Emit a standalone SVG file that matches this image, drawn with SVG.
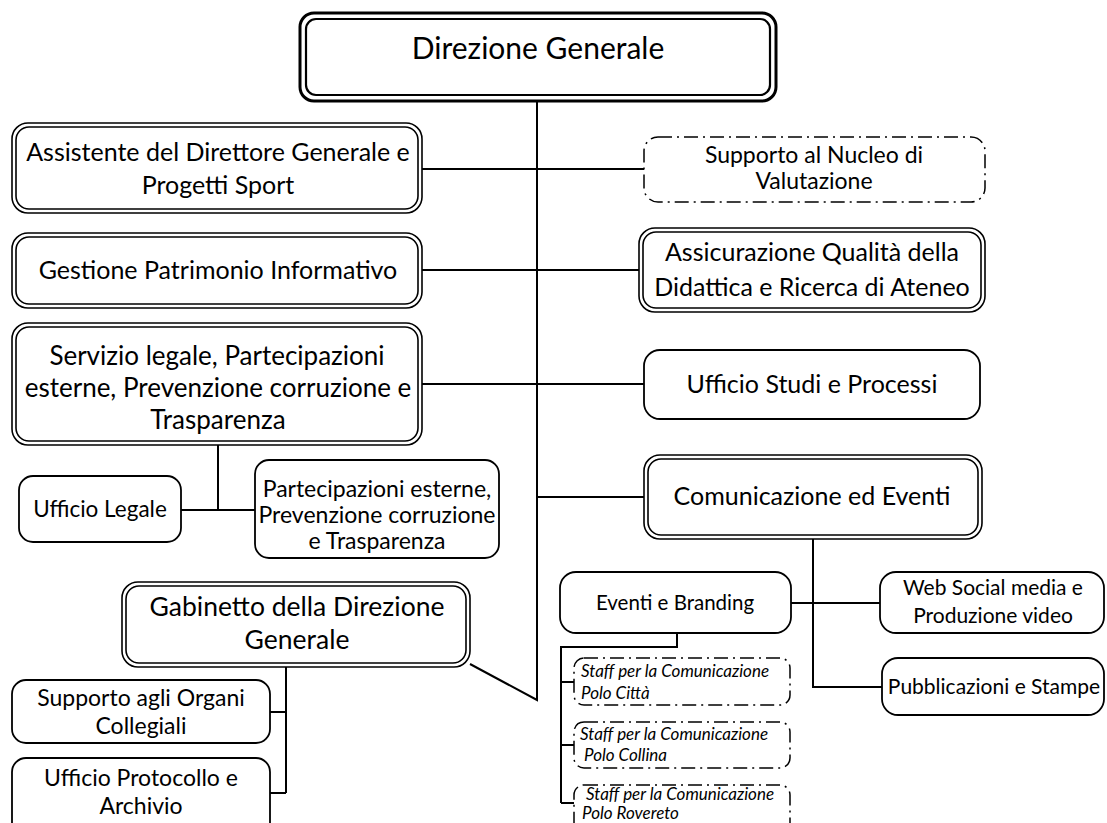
<svg xmlns="http://www.w3.org/2000/svg" width="1107" height="823" viewBox="0 0 1107 823">
<style>
.bg{fill:#fff}
.o{fill:#fff;stroke:#000;stroke-width:1.6}
.i{fill:none;stroke:#000;stroke-width:1.6}
.s{fill:#fff;stroke:#000;stroke-width:1.8}
.dd{fill:#fff;stroke:#000;stroke-width:1.5;stroke-dasharray:14 5 2 5}
.c{fill:none;stroke:#000;stroke-width:2}
text{font-family:Lato,"Open Sans",sans-serif;fill:#000;text-anchor:middle}
.t25{font-size:25px}
.t23{font-size:23px}
.t21{font-size:21px}
.it{font-size:17px;font-style:italic;text-anchor:start}
</style>
<rect class="bg" x="0" y="0" width="1107" height="823"/>
<g id="connectors">
<path class="c" d="M537,101 V700 L470,664"/>
<path class="c" d="M422,169 H644"/>
<path class="c" d="M422,270 H639"/>
<path class="c" d="M422,384 H644"/>
<path class="c" d="M537,497 H644"/>
<path class="c" d="M218,445 V510 M181,510 H255"/>
<path class="c" d="M286,667 V793 M270,712 H286 M270,793 H286"/>
<path class="c" d="M813,539 V687 H882"/>
<path class="c" d="M791,603 H880"/>
<path class="c" d="M677,633 V647 H561 V803 M561,682 H574 M561,745 H574 M561,803 H574"/>
</g>
<g id="direzione">
<rect x="300" y="13" width="476" height="88" rx="14" fill="#fff" stroke="#000" stroke-width="3"/>
<rect x="306" y="19" width="464" height="76" rx="10" fill="none" stroke="#000" stroke-width="2.2"/>
<text x="538" y="59" style="font-size:30px">Direzione Generale</text>
</g>
<g id="assistente">
<rect class="o" x="12" y="123" width="410" height="90" rx="16"/>
<rect class="i" x="16" y="127" width="402" height="82" rx="13"/>
<text class="t25" x="218" y="161">Assistente del Direttore Generale e</text>
<text class="t25" x="218" y="194">Progetti Sport</text>
</g>
<g id="supporto-nucleo">
<rect class="dd" x="644" y="137" width="341" height="65" rx="14"/>
<text class="t23" x="814" y="163">Supporto al Nucleo di</text>
<text class="t23" x="814" y="189">Valutazione</text>
</g>
<g id="gestione">
<rect class="o" x="12" y="233" width="410" height="75" rx="16"/>
<rect class="i" x="16" y="237" width="402" height="67" rx="13"/>
<text class="t25" x="218" y="279">Gestione Patrimonio Informativo</text>
</g>
<g id="assicurazione">
<rect class="o" x="639" y="228" width="346" height="84" rx="16"/>
<rect class="i" x="643" y="232" width="338" height="76" rx="13"/>
<text class="t25" x="812" y="261">Assicurazione Qualità della</text>
<text class="t25" x="812" y="296">Didattica e Ricerca di Ateneo</text>
</g>
<g id="servizio">
<rect class="o" x="12" y="323" width="410" height="122" rx="16"/>
<rect class="i" x="16" y="327" width="402" height="114" rx="13"/>
<text x="217" y="365" style="font-size:26px">Servizio legale, Partecipazioni</text>
<text x="218" y="397" style="font-size:26px">esterne, Prevenzione corruzione e</text>
<text x="218" y="429" style="font-size:26px">Trasparenza</text>
</g>
<g id="ufficio-studi">
<rect class="s" x="644" y="350" width="336" height="69" rx="16"/>
<text class="t25" x="812" y="393">Ufficio Studi e Processi</text>
</g>
<g id="comunicazione">
<rect class="o" x="644" y="455" width="338" height="84" rx="16"/>
<rect class="i" x="648" y="459" width="330" height="76" rx="13"/>
<text class="t25" x="812" y="505">Comunicazione ed Eventi</text>
</g>
<g id="ufficio-legale">
<rect class="s" x="19" y="476" width="162" height="66" rx="14"/>
<text x="100" y="517" style="font-size:22.5px">Ufficio Legale</text>
</g>
<g id="partecipazioni">
<rect class="s" x="255" y="460" width="244" height="98" rx="14"/>
<text class="t23" x="377" y="497">Partecipazioni esterne,</text>
<text class="t23" x="377" y="523">Prevenzione corruzione</text>
<text class="t23" x="377" y="549">e Trasparenza</text>
</g>
<g id="gabinetto">
<rect class="o" x="122" y="582" width="348" height="85" rx="16"/>
<rect class="i" x="126" y="586" width="340" height="77" rx="13"/>
<text x="297" y="616" style="font-size:26.5px">Gabinetto della Direzione</text>
<text x="297" y="649" style="font-size:26.5px">Generale</text>
</g>
<g id="supporto-organi">
<rect class="s" x="12" y="680" width="258" height="63" rx="14"/>
<text class="t23" x="141" y="706">Supporto agli Organi</text>
<text class="t23" x="141" y="734">Collegiali</text>
</g>
<g id="ufficio-protocollo">
<rect class="s" x="12" y="758" width="258" height="85" rx="14"/>
<text class="t23" x="141" y="786">Ufficio Protocollo e</text>
<text class="t23" x="141" y="814">Archivio</text>
</g>
<g id="eventi-branding">
<rect class="s" x="560" y="572" width="231" height="61" rx="16"/>
<text x="675" y="610" style="font-size:20.5px">Eventi e Branding</text>
</g>
<g id="web-social">
<rect class="s" x="880" y="572" width="224" height="61" rx="16"/>
<text class="t21" x="993" y="595">Web Social media e</text>
<text class="t21" x="993" y="623">Produzione video</text>
</g>
<g id="pubblicazioni">
<rect class="s" x="882" y="658" width="222" height="57" rx="16"/>
<text class="t21" x="994" y="694">Pubblicazioni e Stampe</text>
</g>
<g id="staff-citta">
<rect class="dd" x="574" y="658" width="216" height="47" rx="10"/>
<text class="it" x="581" y="677">Staff per la  Comunicazione</text>
<text class="it" x="581" y="699">Polo Città</text>
</g>
<g id="staff-collina">
<rect class="dd" x="574" y="722" width="216" height="46" rx="10"/>
<text class="it" x="580" y="740">Staff per la Comunicazione</text>
<text class="it" x="584" y="761">Polo Collina</text>
</g>
<g id="staff-rovereto">
<rect class="dd" x="574" y="785" width="216" height="50" rx="10"/>
<text class="it" x="586" y="800">Staff per la Comunicazione</text>
<text class="it" x="582" y="819">Polo Rovereto</text>
</g>
</svg>
